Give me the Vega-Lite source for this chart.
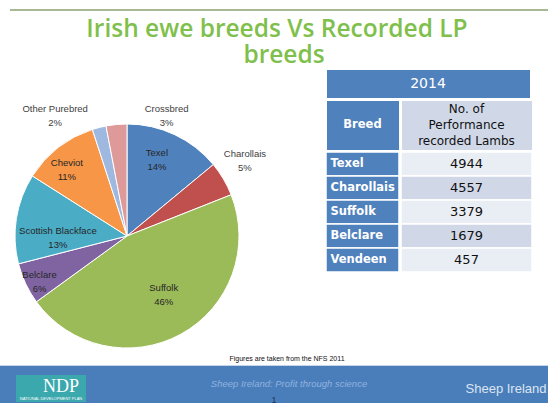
{
  "$schema": "https://vega.github.io/schema/vega-lite/v6.json",
  "padding": 0,
  "background": "white",
  "spacing": 0,
  "resolve": {"scale": {"color": "independent", "y": "independent"}},
  "config": {"view": {"stroke": null}, "concat": {"spacing": 0}, "text": {"font": "Liberation Sans"}},
  "datasets": {
    "pie": [
      {"breed": "Texel", "share": 0.14},
      {"breed": "Charollais", "share": 0.05},
      {"breed": "Suffolk", "share": 0.46},
      {"breed": "Belclare", "share": 0.06},
      {"breed": "Scottish Blackface", "share": 0.13},
      {"breed": "Cheviot", "share": 0.11},
      {"breed": "Other Purebred", "share": 0.02},
      {"breed": "Crossbred", "share": 0.03}
    ],
    "lambs": [
      {"breed": "Texel", "lambs": 4944},
      {"breed": "Charollais", "lambs": 4557},
      {"breed": "Suffolk", "lambs": 3379},
      {"breed": "Belclare", "lambs": 1679},
      {"breed": "Vendeen", "lambs": 457}
    ]
  },
  "vconcat": [
    {"width": 548, "height": 9, "data": {"values": [{}]}, "mark": {"type": "text", "text": "", "fontSize": 0}},
    {"hconcat": [
      {"width": 10, "height": 2, "data": {"values": [{}]}, "mark": {"type": "text", "text": "", "fontSize": 0}},
      {"width": 538, "height": 2, "data": {"values": [{}]}, "mark": {"type": "text", "text": "", "fontSize": 0}, "view": {"fill": "#a7b894", "stroke": null}}
    ], "spacing": 0},
    {"width": 548, "height": 57, "data": {"values": [{}]},
     "layer": [
       {"mark": {"type": "text", "text": "Irish ewe breeds Vs Recorded LP", "font": "Open Sans", "fontSize": 24.5, "fontWeight": 600, "fill": "#7fc04c", "baseline": "middle", "dy": -9.5, "dx": 3}},
       {"mark": {"type": "text", "text": "breeds", "font": "Open Sans", "fontSize": 24.5, "fontWeight": 600, "fill": "#7fc04c", "baseline": "middle", "dy": 16, "dx": 10}}
     ]},
    {"hconcat": [
      {"vconcat": [
        {"width": 254, "height": 34, "data": {"values": [{}]}, "mark": {"type": "text", "text": "", "fontSize": 0}},
        {"width": 254, "height": 234,
         "data": {"name": "pie"},
         "transform": [{"window": [{"op": "row_number", "as": "i"}]}],
         "encoding": {
           "theta": {"field": "share", "type": "quantitative", "stack": true},
           "order": {"field": "i", "type": "quantitative"}
         },
         "layer": [
           {"mark": {"type": "arc", "outerRadius": 112, "stroke": "white", "strokeWidth": 1},
            "encoding": {"color": {"field": "breed", "type": "nominal", "legend": null,
              "scale": {"domain": ["Texel", "Charollais", "Suffolk", "Belclare", "Scottish Blackface", "Cheviot", "Other Purebred", "Crossbred"],
                        "range": ["#4f81bd", "#c0504d", "#9bbb59", "#8064a2", "#4bacc6", "#f79646", "#9fb8df", "#dd9a98"]}}}},
           {"mark": {"type": "text", "fontSize": 9.5,
              "radius": {"expr": "datum.breed === 'Texel' ? 82 : datum.breed === 'Charollais' ? 144 : datum.breed === 'Suffolk' ? 70 : datum.breed === 'Belclare' ? 100 : datum.breed === 'Scottish Blackface' ? 70 : datum.breed === 'Cheviot' ? 85 : datum.breed === 'Other Purebred' ? 124 : 120.5"},
              "dx": {"expr": "datum.breed === 'Texel' ? -5 : datum.breed === 'Charollais' ? -6 : datum.breed === 'Suffolk' ? 3 : datum.breed === 'Belclare' ? 3 : datum.breed === 'Scottish Blackface' ? 0 : datum.breed === 'Cheviot' ? -8 : datum.breed === 'Other Purebred' ? -41 : 51"},
              "dy": {"expr": "(datum.breed === 'Belclare' ? 3 : datum.breed === 'Scottish Blackface' ? 13 : datum.breed === 'Cheviot' ? 1 : datum.breed === 'Texel' ? -2 : datum.breed === 'Charollais' ? -2 : datum.breed === 'Suffolk' ? -2 : 0) - 7"},
              "fill": {"expr": "datum.breed === 'Charollais' || datum.breed === 'Other Purebred' || datum.breed === 'Crossbred' ? '#404040' : '#262626'"}},
            "encoding": {"text": {"field": "breed", "type": "nominal"}}},
           {"mark": {"type": "text", "fontSize": 9.5,
              "radius": {"expr": "datum.breed === 'Texel' ? 82 : datum.breed === 'Charollais' ? 144 : datum.breed === 'Suffolk' ? 70 : datum.breed === 'Belclare' ? 100 : datum.breed === 'Scottish Blackface' ? 70 : datum.breed === 'Cheviot' ? 85 : datum.breed === 'Other Purebred' ? 124 : 120.5"},
              "dx": {"expr": "datum.breed === 'Texel' ? -5 : datum.breed === 'Charollais' ? -6 : datum.breed === 'Suffolk' ? 3 : datum.breed === 'Belclare' ? 3 : datum.breed === 'Scottish Blackface' ? 0 : datum.breed === 'Cheviot' ? -8 : datum.breed === 'Other Purebred' ? -41 : 51"},
              "dy": {"expr": "(datum.breed === 'Belclare' ? 3 : datum.breed === 'Scottish Blackface' ? 13 : datum.breed === 'Cheviot' ? 1 : datum.breed === 'Texel' ? -2 : datum.breed === 'Charollais' ? -2 : datum.breed === 'Suffolk' ? -2 : 0) + 7"},
              "fill": {"expr": "datum.breed === 'Charollais' || datum.breed === 'Other Purebred' || datum.breed === 'Crossbred' ? '#404040' : '#262626'"}},
            "encoding": {"text": {"field": "share", "type": "quantitative", "format": ".0%"}}}
         ]}
      ], "spacing": 0},
      {"width": 58, "height": 10, "data": {"values": [{}]}, "mark": {"type": "text", "text": "", "fontSize": 0}},
      {"vconcat": [
        {"width": 204, "height": 29, "data": {"values": [{}]}, "view": {"fill": "#4f81bd", "stroke": "white", "strokeWidth": 1},
         "mark": {"type": "text", "text": "2014", "font": "DejaVu Sans", "fontSize": 14, "fill": "white", "baseline": "middle"}},
        {"hconcat": [
          {"width": 73, "height": 50, "data": {"values": [{}]}, "view": {"fill": "#4f81bd", "stroke": "white", "strokeWidth": 1},
           "mark": {"type": "text", "text": "Breed", "font": "DejaVu Sans", "fontWeight": "bold", "fontSize": 11.5, "fill": "white", "baseline": "middle"}},
          {"width": 131, "height": 50, "data": {"values": [{}]}, "view": {"fill": "#d0d8e8", "stroke": "white", "strokeWidth": 1},
           "mark": {"type": "text", "text": ["No. of", "Performance", "recorded Lambs"], "font": "DejaVu Sans", "fontSize": 12, "lineHeight": 16, "fill": "#111111", "baseline": "middle", "dy": -16}}
        ], "spacing": 0},
        {"hconcat": [
          {"width": 73, "height": 120, "data": {"name": "lambs"},
           "encoding": {"y": {"field": "breed", "type": "nominal", "sort": null, "axis": null}},
           "layer": [
             {"mark": {"type": "rect", "fill": "#4f81bd", "stroke": "white", "strokeWidth": 1.5}},
             {"mark": {"type": "text", "font": "DejaVu Sans", "fontWeight": "bold", "fontSize": 11.5, "fill": "white", "align": "left", "dx": -32, "baseline": "middle"},
              "encoding": {"text": {"field": "breed", "type": "nominal"}}}
           ]},
          {"width": 131, "height": 120, "data": {"name": "lambs"},
           "encoding": {"y": {"field": "breed", "type": "nominal", "sort": null, "axis": null}},
           "layer": [
             {"mark": {"type": "rect", "stroke": "white", "strokeWidth": 1.5},
              "encoding": {"color": {"field": "breed", "type": "nominal", "legend": null,
                "scale": {"domain": ["Texel", "Charollais", "Suffolk", "Belclare", "Vendeen"], "range": ["#e9edf4", "#d0d8e8", "#e9edf4", "#d0d8e8", "#e9edf4"]}}}},
             {"mark": {"type": "text", "font": "DejaVu Sans", "fontSize": 13, "fill": "#111111", "baseline": "middle"},
              "encoding": {"text": {"field": "lambs", "type": "quantitative", "format": "d"}}}
           ]}
        ], "spacing": 0}
      ], "spacing": 0}
    ], "spacing": 0, "resolve": {"scale": {"color": "independent", "y": "independent"}}},
    {"width": 548, "height": 12, "data": {"values": [{}]},
     "mark": {"type": "text", "text": "Figures are taken from the NFS 2011", "fontSize": 7, "fill": "#111111", "dx": 13, "baseline": "middle"}},
    {"width": 548, "height": 1, "data": {"values": [{}]}, "mark": {"type": "text", "text": "", "fontSize": 0}, "view": {"fill": "#c6d5ea", "stroke": null}},
    {"hconcat": [
      {"width": 16, "height": 39, "data": {"values": [{}]}, "mark": {"type": "text", "text": "", "fontSize": 0}, "view": {"fill": "#4a7ebb", "stroke": null}},
      {"vconcat": [
        {"width": 70, "height": 9, "data": {"values": [{}]}, "mark": {"type": "text", "text": "", "fontSize": 0}, "view": {"fill": "#4a7ebb", "stroke": null}},
        {"width": 70, "height": 27, "data": {"values": [{}]}, "view": {"fill": "#3aa8ad", "stroke": null},
         "layer": [
           {"mark": {"type": "text", "text": "NDP", "font": "Liberation Serif", "fontSize": 18, "fill": "white", "baseline": "middle", "dx": 10, "dy": -2}},
           {"mark": {"type": "text", "text": "NATIONAL DEVELOPMENT PLAN", "fontSize": 4, "fill": "white", "baseline": "middle", "dy": 10}}
         ]},
        {"width": 70, "height": 3, "data": {"values": [{}]}, "mark": {"type": "text", "text": "", "fontSize": 0}, "view": {"fill": "#4a7ebb", "stroke": null}}
      ], "spacing": 0},
      {"width": 376, "height": 39, "data": {"values": [{}]}, "view": {"fill": "#4a7ebb", "stroke": null},
       "layer": [
         {"mark": {"type": "text", "text": "Sheep Ireland: Profit through science", "fontSize": 9.5, "fontStyle": "italic", "fill": "#8fb2df", "baseline": "middle", "dx": 15, "dy": -2}},
         {"mark": {"type": "text", "text": "1", "fontSize": 9, "fill": "#17365d", "baseline": "middle", "dy": 14}}
       ]},
      {"width": 86, "height": 39, "data": {"values": [{}]}, "view": {"fill": "#4a7ebb", "stroke": null},
       "mark": {"type": "text", "text": "Sheep Ireland", "fontSize": 13, "fill": "#dbe5f1", "baseline": "middle", "dx": 1, "dy": 3}}
    ], "spacing": 0}
  ]
}
